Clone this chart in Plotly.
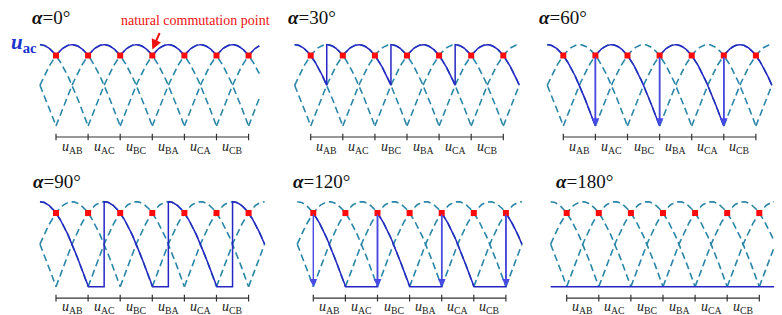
import numpy as np
import plotly.graph_objects as go

# ---------------- data ----------------
alphas = [0, 30, 60, 90, 120, 180]                 # firing angles (deg)
titles = ["0°", "30°", "60°", "90°", "120°", "180°"]
wave_peaks = list(range(-90, 451, 60))             # peak angles of the six line voltages (repeated)
commutation_deg = [0, 60, 120, 180, 240, 300, 360] # natural commutation points
commutation_level = float(np.cos(np.radians(30)))  # 0.866 of peak
phase_labels = ["AB", "AC", "BC", "BA", "CA", "CB"]
label_deg = [30, 90, 150, 210, 270, 330]
arrow_panels = [60, 120]                           # panels whose jumps carry arrowheads

# ---------------- layout parameters (window pixels) ----------------
OFF = 8                      # default page body margin
WF, HF = 774, 307            # figure size so that it fills the 782x315 window
S = 32.1 / 60.0              # px per degree
panels = [
    dict(x0=56.0,  zero=124.5, scale=85.2, yr=(-0.4, 1.45), tend=380, tleft=30,  ty=17,    lv=-0.26),
    dict(x0=310.7, zero=124.5, scale=85.2, yr=(-0.4, 1.45), tend=390, tleft=286, ty=17,    lv=-0.26),
    dict(x0=563.3, zero=124.5, scale=85.2, yr=(-0.4, 1.45), tend=390, tleft=537, ty=17,    lv=-0.26),
    dict(x0=56.0,  zero=286.7, scale=85.0, yr=(-0.33, 1.45), tend=390, tleft=31,  ty=181.7, lv=-0.24),
    dict(x0=313.3, zero=286.7, scale=85.0, yr=(-0.33, 1.45), tend=390, tleft=291, ty=181.7, lv=-0.24),
    dict(x0=566.7, zero=286.7, scale=85.0, yr=(-0.33, 1.45), tend=390, tleft=554, ty=181.7, lv=-0.24),
]
XR = (-40, 400)
DASH_COL = "#2a86a8"
SOLID_COL = "#2626c4"
AXIS_COL = "#333333"
SERIF = "Liberation Serif"

def px_x(x):
    return (x - OFF) / WF

def px_y(y):
    return 1 - (y - OFF) / HF

def wave(theta, p):
    return np.cos(np.radians(theta - p))

def output_curve(alpha, tstart, tend):
    bounds = [tstart] + [alpha + 120 * k for k in range(-5, 6)
                         if tstart < alpha + 120 * k < tend] + [tend]
    xs, ys = [], []
    for a, b in zip(bounds[:-1], bounds[1:]):
        m = int(np.floor((a - alpha) / 120.0 + 1e-9))
        p1, p2 = 30 + 120 * m, 90 + 120 * m
        t = np.linspace(a, b, 120)
        v = np.maximum(0, np.maximum(wave(t, p1), wave(t, p2)))
        xs.extend(t.tolist()); ys.extend(v.tolist())
    return xs, ys

fig = go.Figure()
annotations = []
layout_axes = {}

for i, (alpha, ttl, P) in enumerate(zip(alphas, titles, panels)):
    n = "" if i == 0 else str(i + 1)
    xa, ya = "x" + n, "y" + n
    xdom = [px_x(P["x0"] + XR[0] * S), px_x(P["x0"] + XR[1] * S)]
    ytop_px = P["zero"] - P["yr"][1] * P["scale"]
    ybot_px = P["zero"] - P["yr"][0] * P["scale"]
    ydom = [max(0, px_y(ybot_px)), min(1, px_y(ytop_px))]
    layout_axes["xaxis" + n] = dict(domain=[max(0, xdom[0]), min(1, xdom[1])], range=list(XR),
                                    visible=False, anchor=ya, fixedrange=True)
    layout_axes["yaxis" + n] = dict(domain=ydom, range=list(P["yr"]), visible=False,
                                    anchor=xa, fixedrange=True)
    tend = P["tend"]

    # dashed line voltages (positive half only)
    dx, dy = [], []
    for p in wave_peaks:
        a, b = max(p - 90, -30), min(p + 90, tend)
        if a >= b:
            continue
        t = np.linspace(a, b, 80)
        dx.extend(t.tolist() + [None]); dy.extend(wave(t, p).tolist() + [None])
    fig.add_trace(go.Scatter(x=dx, y=dy, mode="lines", xaxis=xa, yaxis=ya,
                             line=dict(color=DASH_COL, width=1.6, dash="7px,4px"),
                             hoverinfo="skip", showlegend=False))

    # axis line with ticks
    ax_y = -0.135
    tx = [0, 360, None]
    ty = [ax_y, ax_y, None]
    for c in commutation_deg:
        tx += [c, c, None]; ty += [ax_y - 0.04, ax_y + 0.04, None]
    fig.add_trace(go.Scatter(x=tx, y=ty, mode="lines", xaxis=xa, yaxis=ya,
                             line=dict(color=AXIS_COL, width=1.2),
                             hoverinfo="skip", showlegend=False))

    # output voltage
    tstart = 0 if alpha == 120 else -30
    if alpha == 180:
        ox, oy = [-30, 398], [0, 0]
    else:
        ox, oy = output_curve(alpha, tstart, tend)
    fig.add_trace(go.Scatter(x=ox, y=oy, mode="lines", xaxis=xa, yaxis=ya,
                             line=dict(color=SOLID_COL, width=1.5),
                             hoverinfo="skip", showlegend=False))

    # natural commutation points
    fig.add_trace(go.Scatter(x=commutation_deg, y=[commutation_level] * len(commutation_deg),
                             mode="markers", xaxis=xa, yaxis=ya,
                             marker=dict(color="#ff0a0a", size=6, symbol="square"),
                             hoverinfo="skip", showlegend=False))

    # arrows on the jumps
    if alpha in arrow_panels:
        for k in range(-3, 4):
            tf = alpha + 120 * k
            if 0 <= tf <= 360:
                annotations.append(dict(x=tf, y=0.0, ax=tf, ay=commutation_level,
                                        xref=xa, yref=ya, axref=xa, ayref=ya, text="",
                                        showarrow=True, arrowhead=2, arrowsize=1.1,
                                        arrowwidth=1.4, arrowcolor="#4a4ae6"))

    # phase labels
    for lab, d in zip(phase_labels, label_deg):
        annotations.append(dict(x=d, y=P["lv"], xref=xa, yref=ya, showarrow=False,
                                text="<i>u</i><sub>%s</sub>" % lab,
                                font=dict(family=SERIF, size=14, color="#222222")))

    # panel title
    annotations.append(dict(x=px_x(P["tleft"]), y=px_y(P["ty"]),
                            xref="paper", yref="paper", xanchor="left", yanchor="middle",
                            showarrow=False, text="<b><i>α</i></b>=" + ttl,
                            font=dict(family=SERIF, size=19, color="#111111")))

# u_ac label and natural commutation point callout
annotations.append(dict(x=px_x(8.5), y=px_y(43), xref="paper", yref="paper", xanchor="left",
                        yanchor="middle", showarrow=False,
                        text="<b><i>u</i></b><sub><b>ac</b></sub>",
                        font=dict(family=SERIF, size=21, color="#1a35d0")))
annotations.append(dict(x=px_x(119), y=px_y(20), xref="paper", yref="paper", xanchor="left",
                        yanchor="middle", showarrow=False, text="natural commutation point",
                        font=dict(family=SERIF, size=14, color="#ee1111")))
annotations.append(dict(x=180, y=0.94, xref="x", yref="y", ax=8, ay=-18, text="",
                        showarrow=True, arrowhead=2, arrowsize=1, arrowwidth=2,
                        arrowcolor="#ee1111"))

fig.update_layout(width=WF, height=HF, margin=dict(l=0, r=0, t=0, b=0),
                  paper_bgcolor="white", plot_bgcolor="rgba(0,0,0,0)",
                  showlegend=False, annotations=annotations, **layout_axes)
fig.write_html("out.html", config={"displayModeBar": False})
